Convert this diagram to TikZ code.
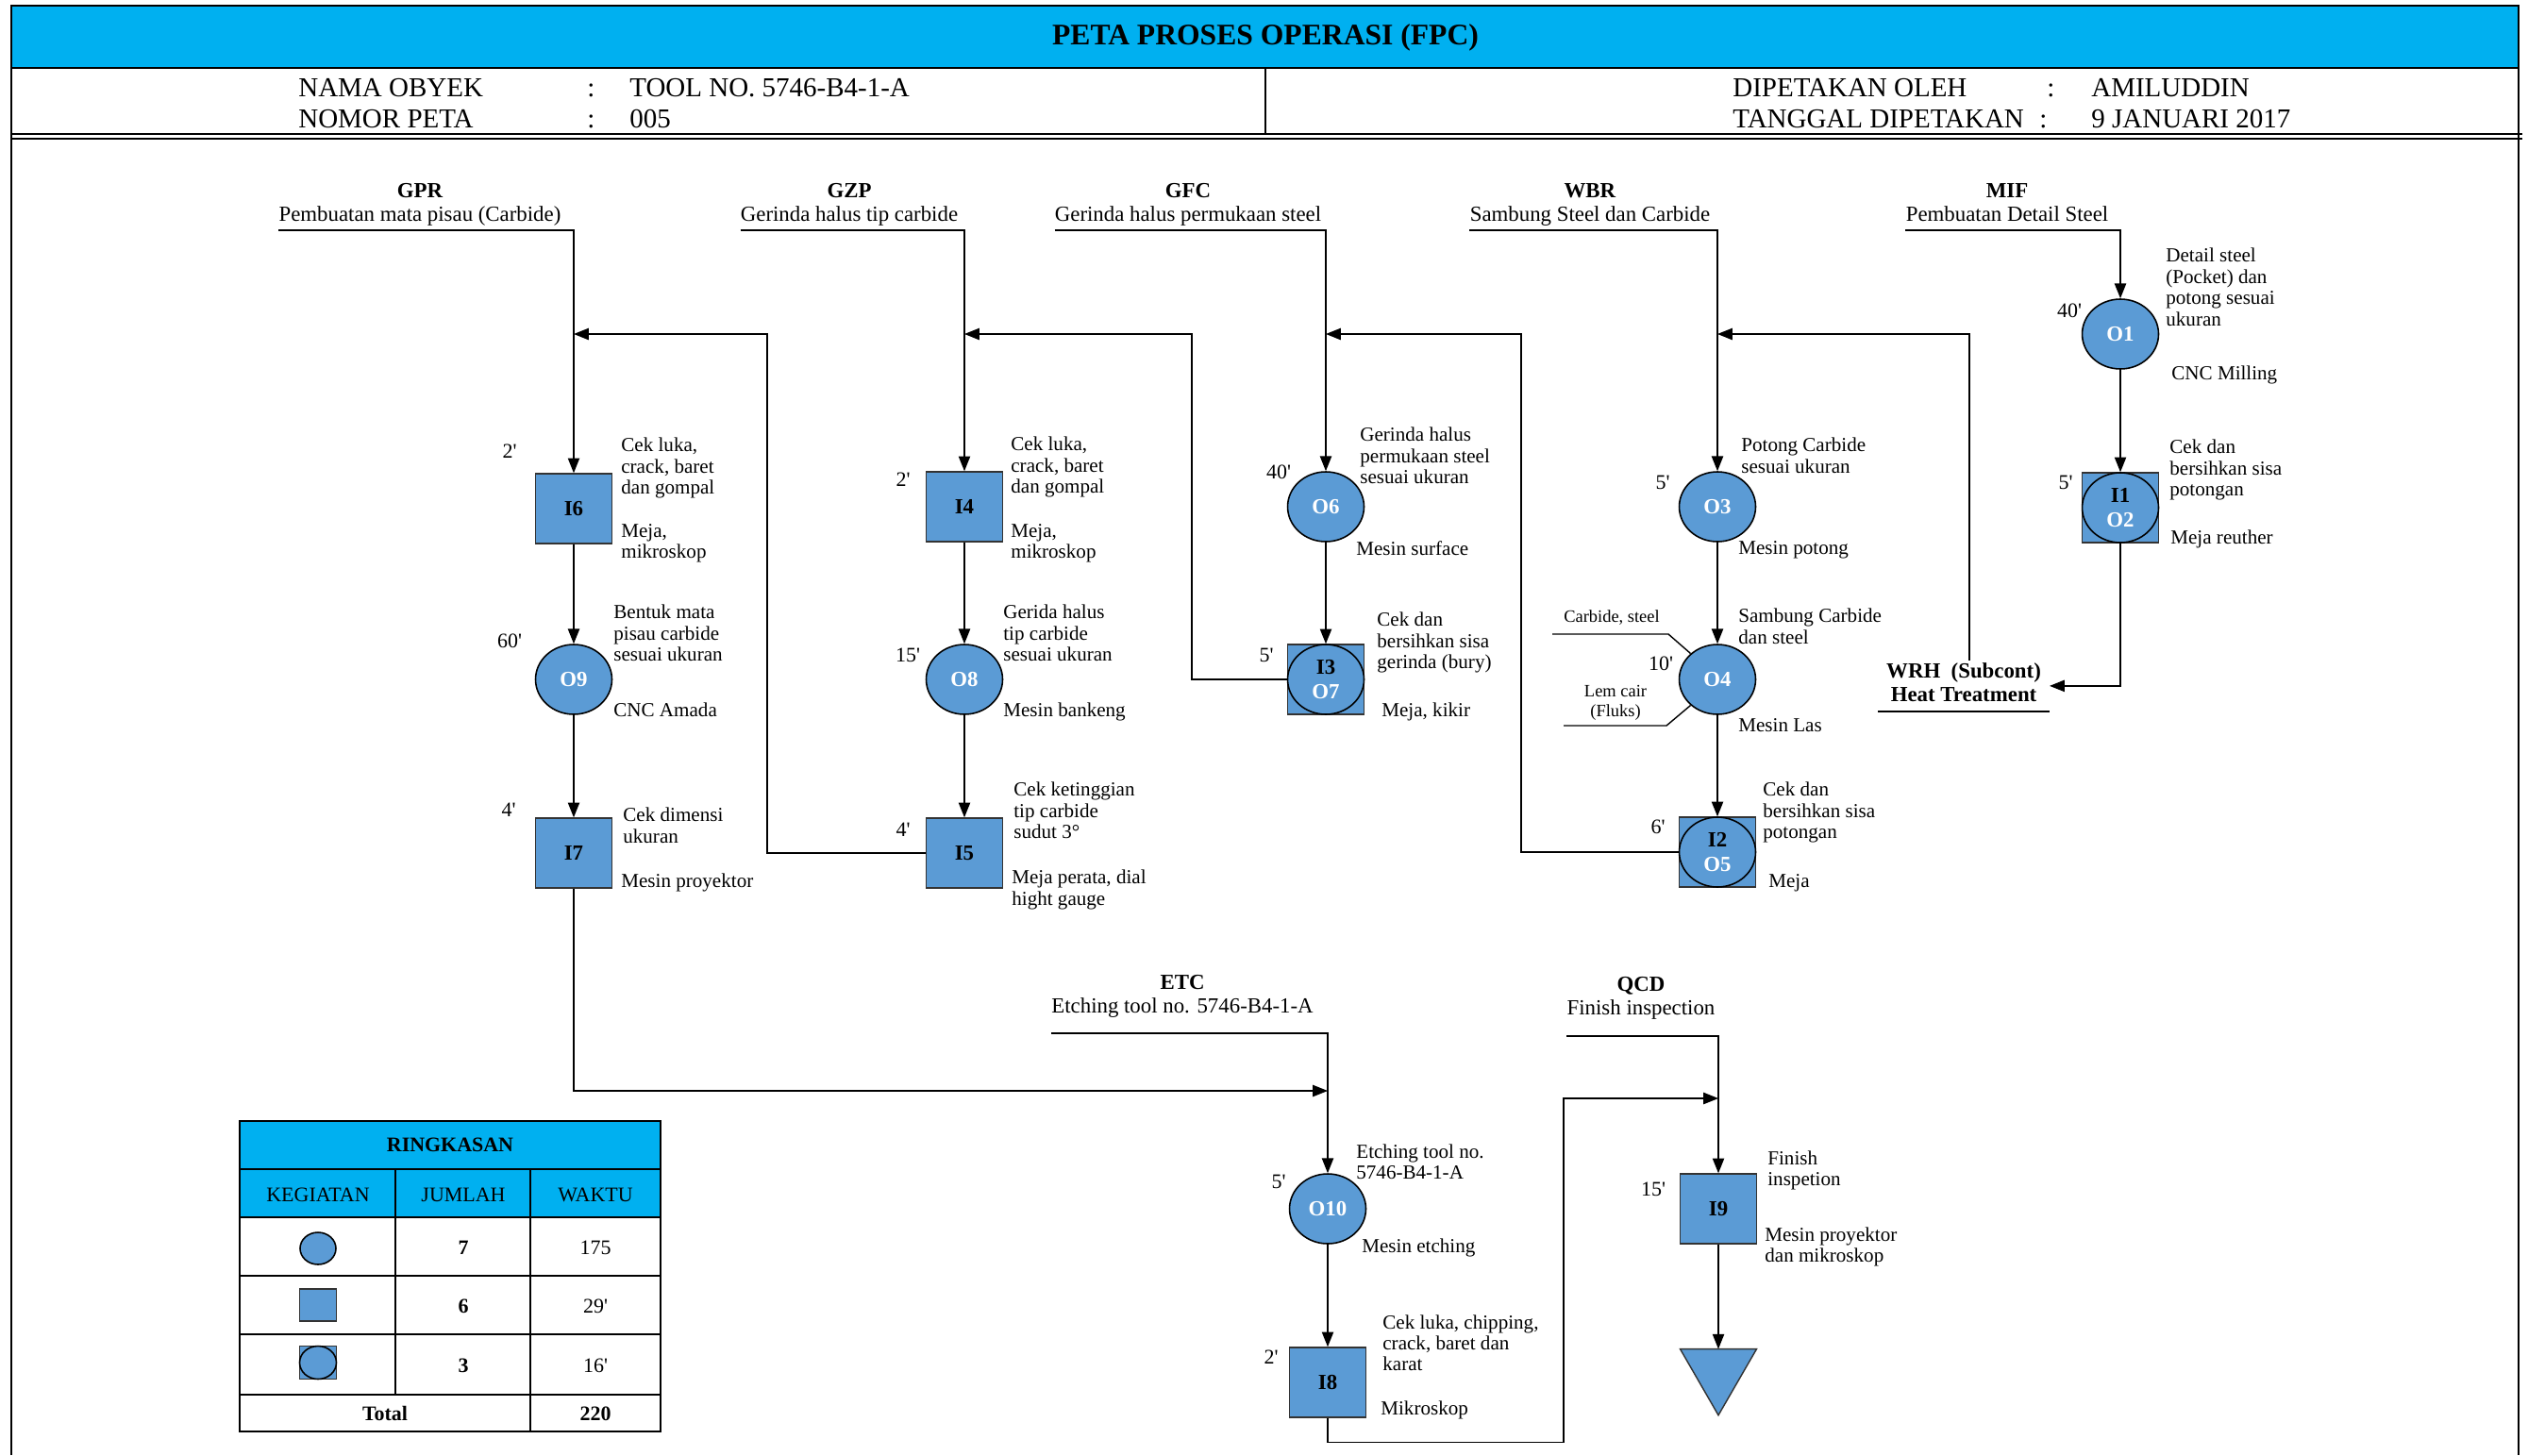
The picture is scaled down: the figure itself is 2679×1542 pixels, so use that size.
\documentclass[tikz,border=0pt]{standalone}
\usepackage{fontspec}
\setmainfont{Liberation Serif}
\usetikzlibrary{arrows.meta,shapes.geometric}
\definecolor{hdrblue}{HTML}{00B0F0}
\definecolor{nodeblue}{HTML}{5B9BD5}

\begin{document}
\begin{tikzpicture}[x=0.02cm, y=-0.02cm,
  op/.style={ellipse, draw=black, line width=0.9pt, fill=nodeblue, minimum width=1.62cm, minimum height=1.48cm,
             inner sep=0pt, align=center, text=white, font=\fontsize{13}{14.8}\selectfont\bfseries},
  ins/.style={rectangle, draw=black!80, line width=0.8pt, fill=nodeblue, minimum width=1.62cm, minimum height=1.48cm,
              inner sep=0pt, font=\fontsize{13}{14.8}\selectfont\bfseries},
  fin/.style={regular polygon, regular polygon sides=3, shape border rotate=180, draw=black!80, line width=0.8pt,
              fill=nodeblue, minimum size=1.87cm, inner sep=0pt, outer sep=0pt},
  head/.style={anchor=south, align=center, inner xsep=0pt, inner ysep=1pt, font=\fontsize{13}{14.2}\selectfont},
  note/.style={anchor=north west, align=left, inner sep=0pt, font=\fontsize{12}{12.8}\selectfont},
  tm/.style={inner sep=0pt, font=\fontsize{12.5}{14}\selectfont},
  small/.style={inner sep=0pt, align=center, font=\fontsize{10.5}{12}\selectfont},
  hdr/.style={anchor=base west, inner sep=0pt, font=\fontsize{16.5}{18}\selectfont},
  cell/.style={inner sep=0pt, font=\fontsize{12.5}{14}\selectfont},
  cellb/.style={inner sep=0pt, font=\fontsize{12.5}{14}\selectfont\bfseries},
  arr/.style={-{Triangle[length=9pt,width=7pt]}, line width=0.8pt},
  ln/.style={line width=0.8pt},
  rim/.style={line width=1.5pt},
  tbl/.style={line width=0.9pt}]
\useasboundingbox (0,0) rectangle (2679,1542);
\fill[white] (0,0) rectangle (2679,1542);
\fill[hdrblue] (12,6) rectangle (2669,72);
\draw[rim] (12,1542) -- (12,6) -- (2669,6) -- (2669,1542);
\draw[rim] (12,72) -- (2669,72);
\draw[rim] (1341,72) -- (1341,142);
\draw[line width=1pt] (12,142) -- (2673,142);
\draw[line width=1pt] (12,147) -- (2673,147);
\node[font=\fontsize{18}{20}\selectfont\bfseries] (title) at (1341,40) {PETA PROSES OPERASI (FPC)};
\node[hdr] (namak) at (316,102) {NAMA OBYEK};
\node[hdr] (namac) at (622,102) {:};
\node[hdr] (namav) at (667,102) {TOOL NO. 5746-B4-1-A};
\node[hdr] (nomk) at (316,135) {NOMOR PETA};
\node[hdr] (nomc) at (622,135) {:};
\node[hdr] (nomv) at (667,135) {005};
\node[hdr] (olehk) at (1836,102) {DIPETAKAN OLEH};
\node[hdr] (olehc) at (2169,102) {:};
\node[hdr] (olehv) at (2216,102) {AMILUDDIN};
\node[hdr] (tglk) at (1836,135) {TANGGAL DIPETAKAN};
\node[hdr] (tglc) at (2161,135) {:};
\node[hdr] (tglv) at (2216,135) {9 JANUARI 2017};

\node[head] (gpr) at (445,244) {\textbf{GPR}\\\strut Pembuatan mata pisau (Carbide)};
\node[head] (gzp) at (900,244) {\textbf{GZP}\\\strut Gerinda halus tip carbide};
\node[head] (gfc) at (1259,244) {\textbf{GFC}\\\strut Gerinda halus permukaan steel};
\node[head] (wbr) at (1685,244) {\textbf{WBR}\\\strut Sambung Steel dan Carbide};
\node[head] (mif) at (2127,244) {\textbf{MIF}\\\strut Pembuatan Detail Steel};
\node[head, inner ysep=7.8pt] (etc) at (1253,1095) {\textbf{ETC}\\\strut Etching tool no. 5746-B4-1-A};
\node[head, inner ysep=8.4pt] (qcd) at (1739,1098) {\textbf{QCD}\\\strut Finish inspection};

\node[ins] (i6) at (608,539) {I6};
\node[op] (o9) at (608,720) {O9};
\node[ins] (i7) at (608,904) {I7};
\node[ins] (i4) at (1022,537) {I4};
\node[op] (o8) at (1022,720) {O8};
\node[ins] (i5) at (1022,904) {I5};
\node[op] (o6) at (1405,537) {O6};
\node[ins] (i3o7) at (1405,720) {};
\node[op] (o7) at (i3o7) {\textcolor{black}{I3}\\O7};
\node[op] (o3) at (1820,537) {O3};
\node[op] (o4) at (1820,720) {O4};
\node[ins] (i2o5) at (1820,903) {};
\node[op] (o5) at (i2o5) {\textcolor{black}{I2}\\O5};
\node[op] (o1) at (2247,354) {O1};
\node[ins] (i1o2) at (2247,538) {};
\node[op] (o2) at (i1o2) {\textcolor{black}{I1}\\O2};
\node[op] (o10) at (1407,1281) {O10};
\node[ins] (i8) at (1407,1465) {I8};
\node[ins] (i9) at (1821,1281) {I9};
\node[fin] (store) at (1821,1453) {};
\node[anchor=south, align=center, inner xsep=5pt, inner ysep=1.3pt, font=\fontsize{13}{14.5}\selectfont\bfseries]
  (wrh) at (2081,754) {WRH\ \ (Subcont)\\\strut Heat Treatment};

\node[tm] (i6w) at (540,478) {2\textquotesingle};
\node[note] (i6t) at (658,464) {Cek luka,\\crack, baret\\dan gompal};
\node[note] (i6m) at (658,555) {Meja,\\mikroskop};
\node[tm] (o9w) at (540,679) {60\textquotesingle};
\node[note] (o9t) at (650,641) {Bentuk mata\\pisau carbide\\sesuai ukuran};
\node[note] (o9m) at (650,745) {CNC Amada};
\node[tm] (i7w) at (539,858) {4\textquotesingle};
\node[note] (i7t) at (660,856) {Cek dimensi\\ukuran};
\node[note] (i7m) at (658,926) {Mesin proyektor};
\node[tm] (i4w) at (957,508) {2\textquotesingle};
\node[note] (i4t) at (1071,463) {Cek luka,\\crack, baret\\dan gompal};
\node[note] (i4m) at (1071,555) {Meja,\\mikroskop};
\node[tm] (o8w) at (962,694) {15\textquotesingle};
\node[note] (o8t) at (1063,641) {Gerida halus\\tip carbide\\sesuai ukuran};
\node[note] (o8m) at (1063,745) {Mesin bankeng};
\node[tm] (i5w) at (957,879) {4\textquotesingle};
\node[note] (i5t) at (1074,829) {Cek ketinggian\\tip carbide\\sudut 3°};
\node[note] (i5m) at (1072,922) {Meja perata, dial\\hight gauge};
\node[tm] (o6w) at (1355,500) {40\textquotesingle};
\node[note] (o6t) at (1441,453) {Gerinda halus\\permukaan steel\\sesuai ukuran};
\node[note] (o6m) at (1437,573) {Mesin surface};
\node[tm] (o7w) at (1342,694) {5\textquotesingle};
\node[note] (o7t) at (1459,649) {Cek dan\\bersihkan sisa\\gerinda (bury)};
\node[note] (o7m) at (1464,745) {Meja, kikir};
\node[tm] (o3w) at (1762,511) {5\textquotesingle};
\node[note] (o3t) at (1845,464) {Potong Carbide\\sesuai ukuran};
\node[note] (o3m) at (1842,573) {Mesin potong};
\node[tm] (o4w) at (1760,703) {10\textquotesingle};
\node[note] (o4t) at (1842,645) {Sambung Carbide\\dan steel};
\node[note] (o4m) at (1842,761) {Mesin Las};
\node[small] (cslbl) at (1708,655) {Carbide, steel};
\node[small] (lclbl) at (1712,745) {Lem cair\\(Fluks)};
\node[tm] (o5w) at (1757,876) {6\textquotesingle};
\node[note] (o5t) at (1868,829) {Cek dan\\bersihkan sisa\\potongan};
\node[note] (o5m) at (1874,926) {Meja};
\node[tm] (o1w) at (2193,329) {40\textquotesingle};
\node[note] (o1t) at (2295,263) {Detail steel\\(Pocket) dan\\potong sesuai\\ukuran};
\node[note] (o1m) at (2301,388) {CNC Milling};
\node[tm] (o2w) at (2189,511) {5\textquotesingle};
\node[note] (o2t) at (2299,466) {Cek dan\\bersihkan sisa\\potongan};
\node[note] (o2m) at (2300,562) {Meja reuther};
\node[tm] (o10w) at (1355,1252) {5\textquotesingle};
\node[note] (o10t) at (1437,1212) {Etching tool no.\\5746-B4-1-A};
\node[note] (o10m) at (1443,1312) {Mesin etching};
\node[tm] (i8w) at (1347,1438) {2\textquotesingle};
\node[note] (i8t) at (1465,1393) {Cek luka, chipping,\\crack, baret dan\\karat};
\node[note] (i8m) at (1463,1484) {Mikroskop};
\node[tm] (i9w) at (1752,1260) {15\textquotesingle};
\node[note] (i9t) at (1873,1219) {Finish\\inspetion};
\node[note] (i9m) at (1870,1300) {Mesin proyektor\\dan mikroskop};

\coordinate (gprin) at (608,354);
\coordinate (gzpin) at (1022,354);
\coordinate (gfcin) at (1405,354);
\coordinate (wbrin) at (1820,354);
\coordinate (etcin) at (1407,1156);
\coordinate (qcdin) at (1821,1164);
\coordinate (csin) at (1645,672);
\coordinate (lcin) at (1657,769);

\draw[arr] (gpr.south west) -| (i6.north);
\draw[arr] (i6) -- (o9);
\draw[arr] (o9) -- (i7);
\draw[arr] (i7.south) |- (etcin);
\draw[arr] (gzp.south west) -| (i4.north);
\draw[arr] (i4) -- (o8);
\draw[arr] (o8) -- (i5);
\draw[arr] (i5.west) -- ++(-168,0) |- (gprin);
\draw[arr] (gfc.south west) -| (o6.north);
\draw[arr] (o6) -- (i3o7);
\draw[arr] (i3o7.west) -- ++(-101,0) |- (gzpin);
\draw[arr] (wbr.south west) -| (o3.north);
\draw[arr] (o3) -- (o4);
\draw[arr] (o4) -- (i2o5);
\draw[arr] (i2o5.west) -- ++(-167,0) |- (gfcin);
\draw[ln] (csin) -- ++(123,0) -- (o4.136);
\draw[ln] (lcin) -- ++(109,0) -- (o4.224);
\draw[arr] (mif.south west) -| (o1.north);
\draw[arr] (o1) -- (i1o2);
\draw[arr] (i1o2.south) |- (wrh.east);
\draw[arr] ([xshift=3.4pt]wrh.north) |- (wbrin);
\draw[ln] (wrh.south west) -- (wrh.south east);
\draw[arr] (etc.south west) -| (o10.north);
\draw[arr] (o10) -- (i8);
\draw[arr] (i8.south) -- ++(0,26) -- ++(250,0) |- (qcdin);
\draw[arr] (qcd.south west) -| (i9.north);
\draw[arr] (i9) -- (store.90);

\fill[hdrblue] (254,1188) rectangle (700,1290);
\draw[tbl] (254,1188) rectangle (700,1517);
\foreach \y in {1239,1290,1352,1414,1478}
  \draw[tbl] (254,\y) -- (700,\y);
\draw[tbl] (419,1239) -- (419,1478);
\draw[tbl] (562,1239) -- (562,1517);
\node[cellb] (ring) at (477,1213) {RINGKASAN};
\node[cell] (kegh) at (337,1266) {KEGIATAN};
\node[cell] (jumh) at (491,1266) {JUMLAH};
\node[cell] (wakh) at (631,1266) {WAKTU};
\node[op, minimum width=0.76cm, minimum height=0.68cm] (kop) at (337,1323) {};
\node[ins, minimum width=0.78cm, minimum height=0.68cm] (kins) at (337,1383) {};
\node[ins, minimum width=0.78cm, minimum height=0.7cm] (kgab) at (337,1444) {};
\node[op, minimum width=0.78cm, minimum height=0.7cm] (kgabo) at (kgab) {};
\node[cellb] (jop) at (491,1322) {7};
\node[cell] (wop) at (631,1322) {175};
\node[cellb] (jins) at (491,1384) {6};
\node[cell] (wins) at (631,1384) {29\textquotesingle};
\node[cellb] (jgab) at (491,1447) {3};
\node[cell] (wgab) at (631,1447) {16\textquotesingle};
\node[cellb] (tot) at (408,1498) {Total};
\node[cellb] (wtot) at (631,1498) {220};
\end{tikzpicture}
\end{document}
